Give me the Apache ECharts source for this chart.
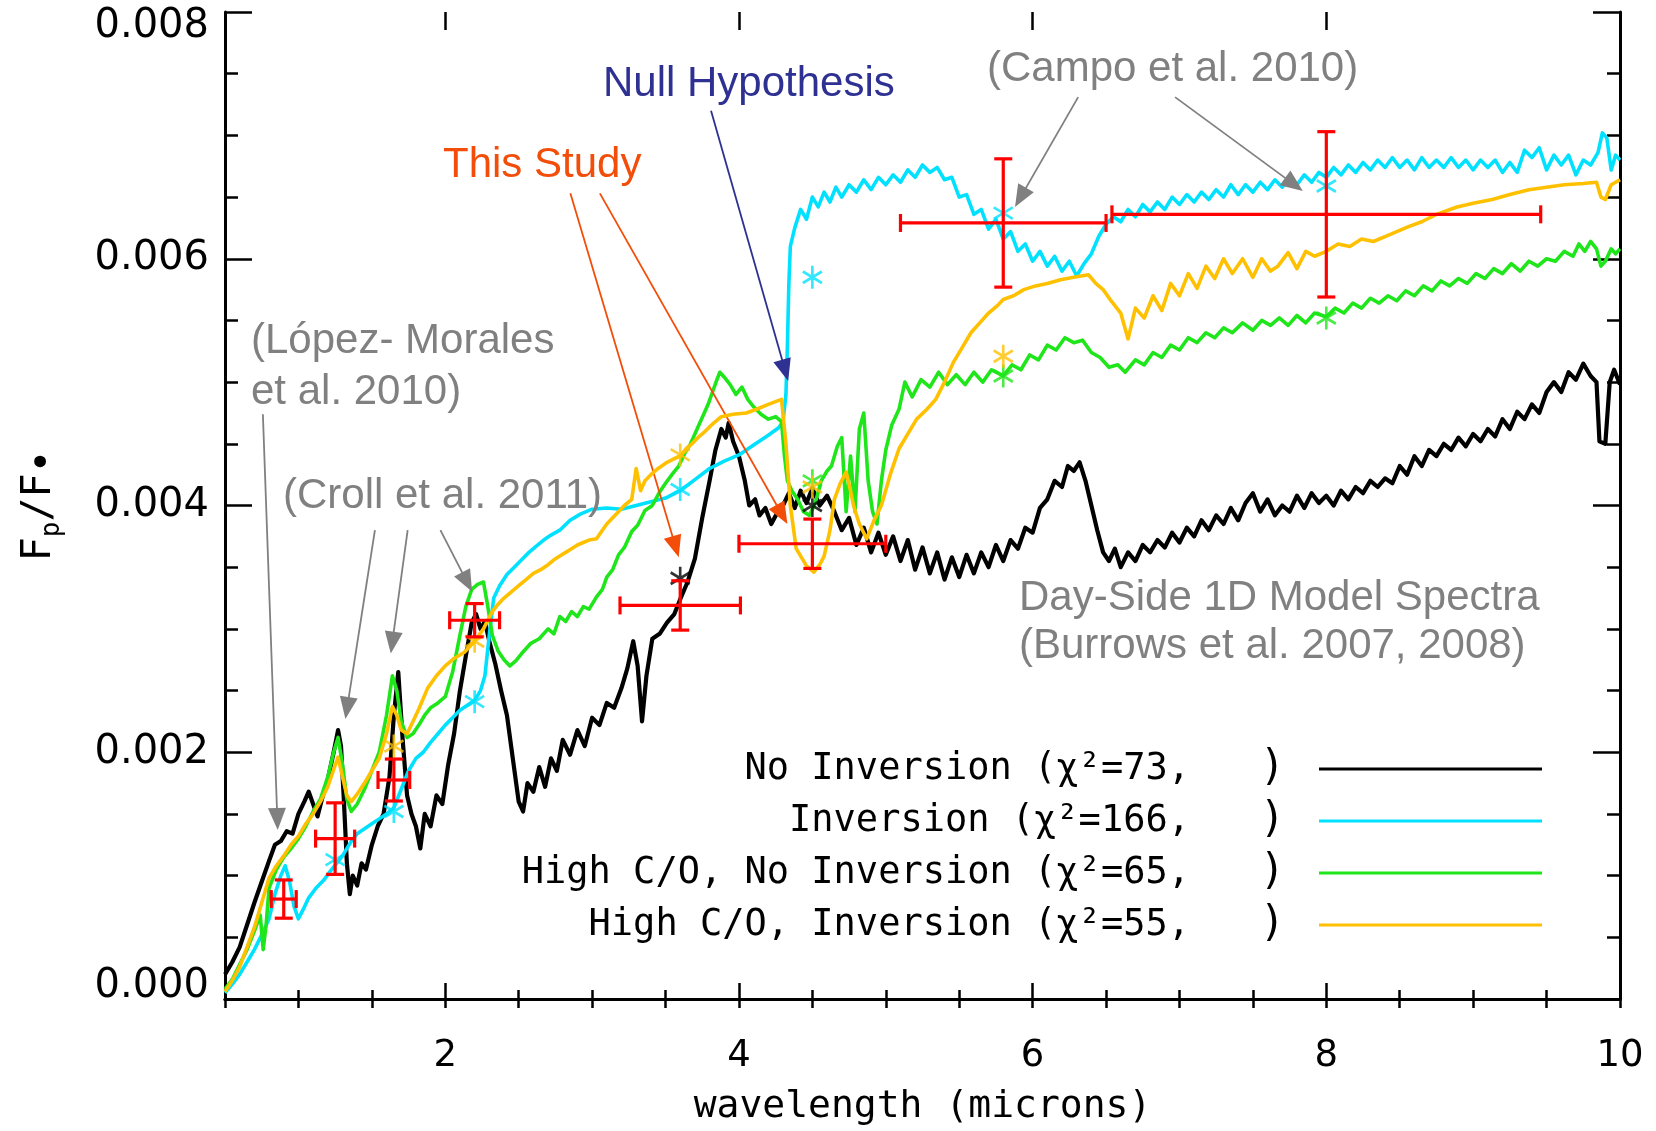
<!DOCTYPE html>
<html><head><meta charset="utf-8">
<script src="https://cdn.jsdelivr.net/npm/echarts@6/dist/echarts.min.js"></script>
<style>html,body{margin:0;padding:0;background:#fff;}#c{width:1656px;height:1131px;}</style>
</head><body><div id="c"></div>
<script>
// ---------------- data ----------------
const xMajorTicks = [2, 4, 6, 8];
const xLabelValues = [2, 4, 6, 8, 10];
const seriesNames = ['No Inversion', 'Inversion', 'High C/O, No Inversion', 'High C/O, Inversion'];
const chi2 = [73, 166, 65, 55];
const seriesColors = ['#000000', '#00e1ff', '#1ee61a', '#ffc000'];

const noInversion = [[0.50,0.00020],[0.55,0.00030],[0.60,0.00042],[0.65,0.00060],[0.70,0.00078],[0.75,0.00095],[0.80,0.00112],[0.84,0.00125],[0.88,0.00128],[0.92,0.00136],[0.96,0.00134],[1.00,0.00150],[1.04,0.00160],[1.07,0.00168],[1.10,0.00158],[1.13,0.00148],[1.16,0.00162],[1.20,0.00178],[1.24,0.00200],[1.27,0.00218],[1.29,0.00205],[1.31,0.00160],[1.33,0.00110],[1.35,0.00085],[1.37,0.00100],[1.40,0.00092],[1.43,0.00110],[1.46,0.00105],[1.50,0.00125],[1.54,0.00140],[1.58,0.00150],[1.62,0.00180],[1.65,0.00230],[1.68,0.00265],[1.71,0.00210],[1.74,0.00165],[1.77,0.00150],[1.80,0.00140],[1.83,0.00122],[1.86,0.00150],[1.90,0.00140],[1.94,0.00165],[1.98,0.00158],[2.02,0.00190],[2.06,0.00215],[2.10,0.00250],[2.14,0.00278],[2.18,0.00305],[2.21,0.00312],[2.24,0.00300],[2.27,0.00306],[2.30,0.00290],[2.34,0.00272],[2.38,0.00250],[2.42,0.00230],[2.46,0.00195],[2.50,0.00160],[2.53,0.00152],[2.56,0.00175],[2.60,0.00168],[2.64,0.00188],[2.68,0.00172],[2.72,0.00195],[2.76,0.00185],[2.80,0.00210],[2.85,0.00198],[2.90,0.00218],[2.95,0.00205],[3.00,0.00228],[3.05,0.00222],[3.10,0.00240],[3.15,0.00236],[3.20,0.00252],[3.24,0.00268],[3.28,0.00290],[3.31,0.00270],[3.34,0.00225],[3.37,0.00262],[3.41,0.00292],[3.46,0.00296],[3.51,0.00305],[3.56,0.00312],[3.60,0.00324],[3.65,0.00338],[3.70,0.00357],[3.75,0.00390],[3.80,0.00420],[3.84,0.00445],[3.88,0.00462],[3.91,0.00455],[3.93,0.00467],[3.96,0.00452],[4.00,0.00440],[4.04,0.00420],[4.07,0.00400],[4.11,0.00405],[4.14,0.00392],[4.18,0.00398],[4.22,0.00385],[4.26,0.00394],[4.30,0.00400],[4.34,0.00410],[4.38,0.00398],[4.42,0.00412],[4.46,0.00402],[4.50,0.00414],[4.55,0.00400],[4.60,0.00408],[4.65,0.00395],[4.70,0.00380],[4.75,0.00390],[4.80,0.00368],[4.85,0.00382],[4.90,0.00362],[4.95,0.00378],[5.00,0.00360],[5.05,0.00375],[5.10,0.00355],[5.15,0.00372],[5.20,0.00348],[5.25,0.00366],[5.30,0.00345],[5.35,0.00362],[5.40,0.00340],[5.45,0.00358],[5.50,0.00342],[5.55,0.00360],[5.60,0.00345],[5.65,0.00362],[5.70,0.00350],[5.75,0.00368],[5.80,0.00355],[5.85,0.00372],[5.90,0.00365],[5.95,0.00382],[6.00,0.00378],[6.05,0.00398],[6.10,0.00405],[6.15,0.00420],[6.20,0.00415],[6.24,0.00432],[6.28,0.00428],[6.32,0.00435],[6.36,0.00420],[6.40,0.00400],[6.44,0.00380],[6.48,0.00362],[6.52,0.00355],[6.56,0.00365],[6.60,0.00350],[6.65,0.00362],[6.70,0.00355],[6.75,0.00368],[6.80,0.00362],[6.85,0.00372],[6.90,0.00366],[6.95,0.00378],[7.00,0.00370],[7.05,0.00382],[7.10,0.00375],[7.15,0.00388],[7.20,0.00380],[7.25,0.00392],[7.30,0.00385],[7.35,0.00398],[7.40,0.00388],[7.45,0.00402],[7.50,0.00410],[7.55,0.00395],[7.60,0.00405],[7.65,0.00392],[7.70,0.00400],[7.75,0.00395],[7.80,0.00408],[7.85,0.00398],[7.90,0.00410],[7.95,0.00402],[8.00,0.00408],[8.05,0.00400],[8.10,0.00412],[8.15,0.00405],[8.20,0.00415],[8.25,0.00410],[8.30,0.00420],[8.35,0.00415],[8.40,0.00422],[8.45,0.00418],[8.50,0.00432],[8.55,0.00425],[8.60,0.00440],[8.65,0.00432],[8.70,0.00445],[8.75,0.00440],[8.80,0.00450],[8.85,0.00445],[8.90,0.00455],[8.95,0.00448],[9.00,0.00458],[9.05,0.00452],[9.10,0.00462],[9.15,0.00456],[9.20,0.00470],[9.25,0.00462],[9.30,0.00476],[9.35,0.00470],[9.40,0.00482],[9.45,0.00475],[9.50,0.00492],[9.55,0.00500],[9.60,0.00492],[9.65,0.00508],[9.70,0.00502],[9.75,0.00515],[9.80,0.00505],[9.84,0.00500],[9.86,0.00452],[9.90,0.00450],[9.93,0.00500],[9.96,0.00510],[10.0,0.00498]];

const inversion = [[0.50,0.00005],[0.55,0.00012],[0.60,0.00020],[0.65,0.00030],[0.70,0.00040],[0.75,0.00052],[0.80,0.00065],[0.84,0.00085],[0.88,0.00100],[0.91,0.00108],[0.94,0.00095],[0.97,0.00075],[1.00,0.00065],[1.03,0.00072],[1.07,0.00082],[1.12,0.00090],[1.17,0.00096],[1.22,0.00104],[1.26,0.00110],[1.30,0.00116],[1.35,0.00126],[1.40,0.00134],[1.45,0.00138],[1.50,0.00142],[1.55,0.00146],[1.60,0.00150],[1.65,0.00155],[1.70,0.00170],[1.75,0.00185],[1.80,0.00195],[1.85,0.00200],[1.90,0.00208],[1.95,0.00215],[2.00,0.00222],[2.05,0.00228],[2.10,0.00234],[2.15,0.00238],[2.20,0.00242],[2.24,0.00250],[2.27,0.00262],[2.30,0.00295],[2.33,0.00325],[2.37,0.00335],[2.42,0.00344],[2.47,0.00350],[2.52,0.00356],[2.57,0.00362],[2.62,0.00367],[2.67,0.00372],[2.72,0.00376],[2.78,0.00380],[2.85,0.00388],[2.92,0.00393],[3.00,0.00397],[3.10,0.00398],[3.20,0.00397],[3.30,0.00400],[3.40,0.00403],[3.50,0.00406],[3.60,0.00412],[3.70,0.00421],[3.80,0.00430],[3.90,0.00436],[4.00,0.00441],[4.10,0.00449],[4.20,0.00457],[4.27,0.00463],[4.30,0.00468],[4.32,0.00490],[4.33,0.00530],[4.34,0.00580],[4.35,0.00610],[4.38,0.00625],[4.42,0.00640],[4.46,0.00632],[4.50,0.00650],[4.54,0.00642],[4.58,0.00654],[4.62,0.00646],[4.66,0.00658],[4.70,0.00650],[4.75,0.00660],[4.80,0.00654],[4.85,0.00664],[4.90,0.00656],[4.95,0.00666],[5.00,0.00660],[5.05,0.00668],[5.10,0.00662],[5.15,0.00672],[5.20,0.00666],[5.25,0.00676],[5.30,0.00670],[5.35,0.00674],[5.40,0.00664],[5.45,0.00666],[5.50,0.00650],[5.55,0.00652],[5.60,0.00636],[5.65,0.00640],[5.70,0.00624],[5.75,0.00632],[5.80,0.00616],[5.85,0.00622],[5.90,0.00606],[5.95,0.00612],[6.00,0.00598],[6.05,0.00606],[6.10,0.00594],[6.15,0.00602],[6.20,0.00590],[6.25,0.00598],[6.30,0.00586],[6.35,0.00596],[6.40,0.00604],[6.45,0.00618],[6.50,0.00628],[6.55,0.00634],[6.60,0.00630],[6.65,0.00640],[6.70,0.00634],[6.75,0.00644],[6.80,0.00638],[6.85,0.00646],[6.90,0.00640],[6.95,0.00650],[7.00,0.00644],[7.05,0.00652],[7.10,0.00646],[7.15,0.00654],[7.20,0.00648],[7.25,0.00656],[7.30,0.00650],[7.35,0.00660],[7.40,0.00652],[7.45,0.00660],[7.50,0.00654],[7.55,0.00662],[7.60,0.00656],[7.65,0.00664],[7.70,0.00658],[7.75,0.00666],[7.80,0.00660],[7.85,0.00668],[7.90,0.00662],[7.95,0.00670],[8.00,0.00666],[8.05,0.00674],[8.10,0.00668],[8.15,0.00676],[8.20,0.00670],[8.25,0.00678],[8.30,0.00672],[8.35,0.00680],[8.40,0.00674],[8.45,0.00682],[8.50,0.00674],[8.55,0.00680],[8.60,0.00672],[8.65,0.00682],[8.70,0.00674],[8.75,0.00680],[8.80,0.00674],[8.85,0.00682],[8.90,0.00674],[8.95,0.00680],[9.00,0.00672],[9.05,0.00680],[9.10,0.00674],[9.15,0.00680],[9.20,0.00670],[9.25,0.00678],[9.30,0.00670],[9.35,0.00688],[9.40,0.00682],[9.45,0.00690],[9.50,0.00672],[9.55,0.00684],[9.60,0.00676],[9.65,0.00684],[9.70,0.00668],[9.75,0.00680],[9.80,0.00676],[9.85,0.00686],[9.88,0.00702],[9.91,0.00698],[9.94,0.00672],[9.97,0.00684],[10.0,0.00680]];

const highCONoInv = [[0.50,0.00008],[0.55,0.00016],[0.60,0.00028],[0.65,0.00040],[0.70,0.00055],[0.74,0.00068],[0.76,0.00040],[0.78,0.00060],[0.80,0.00090],[0.85,0.00105],[0.90,0.00115],[0.95,0.00122],[1.00,0.00130],[1.05,0.00140],[1.10,0.00152],[1.15,0.00162],[1.20,0.00180],[1.24,0.00200],[1.27,0.00212],[1.30,0.00190],[1.33,0.00162],[1.36,0.00152],[1.40,0.00158],[1.45,0.00170],[1.50,0.00185],[1.55,0.00200],[1.60,0.00230],[1.64,0.00262],[1.67,0.00250],[1.70,0.00225],[1.74,0.00212],[1.78,0.00215],[1.82,0.00222],[1.86,0.00230],[1.90,0.00236],[1.95,0.00240],[2.00,0.00245],[2.05,0.00265],[2.10,0.00295],[2.14,0.00318],[2.18,0.00332],[2.22,0.00336],[2.26,0.00338],[2.29,0.00318],[2.32,0.00295],[2.36,0.00282],[2.40,0.00275],[2.44,0.00270],[2.48,0.00274],[2.52,0.00280],[2.58,0.00288],[2.64,0.00292],[2.70,0.00300],[2.74,0.00296],[2.78,0.00310],[2.82,0.00306],[2.86,0.00314],[2.90,0.00310],[2.94,0.00318],[2.98,0.00316],[3.03,0.00326],[3.07,0.00332],[3.10,0.00342],[3.14,0.00348],[3.18,0.00360],[3.22,0.00366],[3.27,0.00379],[3.31,0.00384],[3.36,0.00396],[3.41,0.00400],[3.46,0.00411],[3.50,0.00418],[3.55,0.00426],[3.59,0.00432],[3.63,0.00442],[3.67,0.00450],[3.70,0.00458],[3.73,0.00466],[3.76,0.00474],[3.79,0.00482],[3.82,0.00492],[3.85,0.00502],[3.87,0.00508],[3.90,0.00504],[3.94,0.00498],[3.98,0.00490],[4.02,0.00496],[4.06,0.00486],[4.10,0.00480],[4.15,0.00474],[4.20,0.00470],[4.25,0.00472],[4.29,0.00468],[4.31,0.00440],[4.33,0.00420],[4.36,0.00412],[4.40,0.00405],[4.44,0.00395],[4.48,0.00392],[4.52,0.00402],[4.56,0.00420],[4.60,0.00428],[4.63,0.00432],[4.67,0.00448],[4.70,0.00455],[4.73,0.00395],[4.76,0.00440],[4.79,0.00395],[4.82,0.00462],[4.85,0.00475],[4.88,0.00420],[4.91,0.00395],[4.94,0.00385],[4.97,0.00420],[5.00,0.00445],[5.04,0.00465],[5.09,0.00478],[5.13,0.00500],[5.18,0.00488],[5.24,0.00502],[5.30,0.00496],[5.36,0.00508],[5.42,0.00498],[5.48,0.00506],[5.54,0.00498],[5.60,0.00508],[5.66,0.00500],[5.72,0.00510],[5.80,0.00505],[5.86,0.00514],[5.92,0.00510],[5.98,0.00522],[6.04,0.00518],[6.10,0.00530],[6.16,0.00526],[6.22,0.00536],[6.28,0.00532],[6.34,0.00534],[6.40,0.00524],[6.46,0.00520],[6.52,0.00512],[6.58,0.00514],[6.63,0.00508],[6.70,0.00518],[6.76,0.00514],[6.82,0.00524],[6.88,0.00520],[6.94,0.00530],[7.00,0.00526],[7.06,0.00536],[7.12,0.00532],[7.18,0.00540],[7.24,0.00536],[7.30,0.00544],[7.36,0.00540],[7.43,0.00548],[7.50,0.00542],[7.56,0.00550],[7.62,0.00546],[7.68,0.00552],[7.74,0.00546],[7.80,0.00554],[7.86,0.00548],[7.92,0.00556],[8.00,0.00553],[8.06,0.00560],[8.12,0.00556],[8.18,0.00564],[8.24,0.00560],[8.30,0.00568],[8.36,0.00564],[8.42,0.00570],[8.48,0.00566],[8.54,0.00574],[8.60,0.00570],[8.66,0.00578],[8.72,0.00574],[8.78,0.00582],[8.84,0.00578],[8.90,0.00584],[8.96,0.00580],[9.02,0.00588],[9.08,0.00584],[9.14,0.00592],[9.20,0.00588],[9.26,0.00596],[9.32,0.00590],[9.38,0.00598],[9.44,0.00594],[9.50,0.00600],[9.56,0.00598],[9.62,0.00606],[9.68,0.00602],[9.72,0.00612],[9.76,0.00606],[9.80,0.00614],[9.84,0.00608],[9.87,0.00594],[9.90,0.00598],[9.94,0.00608],[9.97,0.00604],[10.0,0.00608]];

const highCOInv = [[0.50,0.00006],[0.55,0.00015],[0.60,0.00026],[0.65,0.00042],[0.70,0.00058],[0.75,0.00078],[0.80,0.00098],[0.85,0.00108],[0.90,0.00116],[0.95,0.00125],[1.00,0.00132],[1.05,0.00142],[1.10,0.00150],[1.15,0.00160],[1.20,0.00172],[1.24,0.00186],[1.27,0.00196],[1.30,0.00180],[1.33,0.00165],[1.36,0.00160],[1.40,0.00166],[1.45,0.00175],[1.50,0.00185],[1.55,0.00195],[1.60,0.00215],[1.64,0.00237],[1.67,0.00230],[1.70,0.00218],[1.74,0.00215],[1.78,0.00225],[1.82,0.00235],[1.88,0.00252],[1.94,0.00262],[2.00,0.00270],[2.06,0.00276],[2.13,0.00281],[2.20,0.00290],[2.26,0.00300],[2.32,0.00314],[2.36,0.00320],[2.40,0.00325],[2.45,0.00330],[2.50,0.00335],[2.55,0.00340],[2.60,0.00345],[2.65,0.00348],[2.70,0.00352],[2.74,0.00356],[2.78,0.00359],[2.82,0.00362],[2.86,0.00365],[2.90,0.00368],[2.94,0.00370],[2.98,0.00372],[3.03,0.00373],[3.07,0.00380],[3.10,0.00385],[3.14,0.00390],[3.18,0.00395],[3.22,0.00400],[3.27,0.00405],[3.30,0.00430],[3.33,0.00412],[3.36,0.00420],[3.40,0.00425],[3.45,0.00430],[3.51,0.00435],[3.56,0.00438],[3.60,0.00440],[3.64,0.00446],[3.68,0.00450],[3.72,0.00455],[3.76,0.00459],[3.82,0.00466],[3.88,0.00472],[3.96,0.00474],[4.05,0.00475],[4.12,0.00478],[4.20,0.00482],[4.29,0.00486],[4.32,0.00450],[4.35,0.00400],[4.39,0.00365],[4.46,0.00351],[4.51,0.00346],[4.55,0.00352],[4.58,0.00359],[4.62,0.00380],[4.65,0.00405],[4.69,0.00418],[4.73,0.00427],[4.76,0.00412],[4.78,0.00400],[4.82,0.00385],[4.87,0.00373],[4.92,0.00388],[4.97,0.00400],[5.03,0.00425],[5.09,0.00446],[5.15,0.00458],[5.21,0.00470],[5.28,0.00478],[5.34,0.00486],[5.40,0.00500],[5.46,0.00516],[5.52,0.00528],[5.58,0.00540],[5.64,0.00548],[5.70,0.00556],[5.76,0.00562],[5.80,0.00567],[5.87,0.00570],[5.94,0.00575],[6.02,0.00578],[6.10,0.00580],[6.19,0.00583],[6.28,0.00585],[6.38,0.00587],[6.43,0.00580],[6.48,0.00575],[6.54,0.00565],[6.60,0.00556],[6.65,0.00535],[6.70,0.00560],[6.76,0.00552],[6.82,0.00570],[6.88,0.00558],[6.94,0.00580],[7.00,0.00570],[7.06,0.00588],[7.12,0.00576],[7.18,0.00594],[7.24,0.00584],[7.30,0.00600],[7.36,0.00588],[7.43,0.00600],[7.50,0.00585],[7.56,0.00600],[7.62,0.00590],[7.67,0.00594],[7.74,0.00605],[7.80,0.00592],[7.86,0.00606],[7.92,0.00602],[8.00,0.00606],[8.08,0.00612],[8.16,0.00610],[8.24,0.00616],[8.32,0.00614],[8.40,0.00618],[8.48,0.00622],[8.56,0.00626],[8.65,0.00630],[8.75,0.00636],[8.89,0.00642],[9.00,0.00645],[9.13,0.00648],[9.25,0.00652],[9.38,0.00656],[9.50,0.00658],[9.62,0.00660],[9.75,0.00661],[9.84,0.00662],[9.87,0.00650],[9.90,0.00648],[9.94,0.00660],[10.0,0.00664]];

// observations (red error bars)
const obsWave     = [0.90, 1.25, 1.65, 2.20, 3.60, 4.50, 5.80, 8.00];
const obsWaveErr  = [0.085, 0.133, 0.108, 0.17, 0.41, 0.50, 0.70, 1.46];
const obsFlux     = [0.00081, 0.00130, 0.001775, 0.00307, 0.00319, 0.00369, 0.00629, 0.00636];
const obsFluxErr  = [0.000155, 0.00029, 0.00017, 0.000135, 0.00020, 0.00020, 0.00052, 0.00067];

// band-integrated model points (asterisks)
const bandNoInv    = [[3.6,0.00341],[4.5,0.00400]];
const bandInv      = [[1.25,0.00113],[1.65,0.00152],[2.2,0.00241],[3.6,0.00413],[4.5,0.00585],[5.8,0.00637],[8.0,0.00659]];
const bandHighCONoInv = [[4.5,0.00420],[5.8,0.00505],[8.0,0.00552]];
const bandHighCOInv   = [[1.65,0.00205],[2.2,0.00290],[3.6,0.00441],[4.5,0.00415],[5.8,0.00521]];

// annotation arrows (data coordinates: tail -> tip)
const arrowFrom = [[0.758,0.00474],[1.521,0.00380],[1.744,0.00380],[1.967,0.00380],[6.31,0.00731],[6.97,0.00731],[2.852,0.00653],[3.053,0.00653],[3.81,0.00720]];
const arrowTo   = [[0.859,0.00137],[1.320,0.00227],[1.629,0.00280],[2.183,0.00330],[5.88,0.00642],[7.84,0.00655],[3.59,0.00358],[4.33,0.00385],[4.335,0.00501]];
const arrowColor = ['#808080','#808080','#808080','#808080','#808080','#808080','#f24e0a','#f24e0a','#2e3192'];

// ---------------- chart ----------------
const chart = echarts.init(document.getElementById('c'), null, {renderer: 'canvas'});
const G = {left: 225, right: 36, top: 12, bottom: 130};
const AX = {lineStyle: {color: '#000', width: 3}};
const TK = {color: '#000', width: 2.5};
const starPath = 'path://M-1.2,-10L-1.2,10L1.2,10L1.2,-10ZM8.06,6.04L9.26,3.96L-8.06,-6.04L-9.26,-3.96ZM-9.26,3.96L-8.06,6.04L9.26,-3.96L8.06,-6.04Z';

const lineData = [noInversion, inversion, highCONoInv, highCOInv];
const bandData = [bandNoInv, bandInv, bandHighCONoInv, bandHighCOInv];
const lineWidths = [4.2, 3.6, 3.6, 3.6];

const series = [];
lineData.forEach((d, i) => {
  series.push({
    name: seriesNames[i], type: 'line', data: d, xAxisIndex: 0, yAxisIndex: 0,
    showSymbol: false, symbol: 'none', smooth: false, sampling: null,
    lineStyle: {color: seriesColors[i], width: lineWidths[i], join: 'round'},
    itemStyle: {color: seriesColors[i]},
    emphasis: {disabled: true}, silent: true, z: 2 + i
  });
});
bandData.forEach((d, i) => {
  series.push({
    name: seriesNames[i] + ' band', type: 'scatter', data: d,
    symbol: starPath, symbolSize: [22, 23], symbolKeepAspect: true,
    itemStyle: {color: seriesColors[i]}, emphasis: {disabled: true}, silent: true, z: 7
  });
});
series.push({
  name: 'observations', type: 'custom', z: 10, silent: true,
  data: obsWave.map((w, i) => [w, obsFlux[i], obsWaveErr[i], obsFluxErr[i]]),
  encode: {x: 0, y: 1},
  renderItem: function (params, api) {
    const x = api.value(0), y = api.value(1), dx = api.value(2), dy = api.value(3);
    const c = api.coord([x, y]);
    const l = api.coord([x - dx, y]), r = api.coord([x + dx, y]);
    const t = api.coord([x, y + dy]), b = api.coord([x, y - dy]);
    const cap = 9;
    const st = {stroke: '#ff0000', lineWidth: 3.2};
    const L = (x1, y1, x2, y2) => ({type: 'line', shape: {x1, y1, x2, y2}, style: st});
    return {type: 'group', children: [
      L(l[0], c[1], r[0], c[1]),
      L(c[0], t[1], c[0], b[1]),
      L(c[0] - cap, t[1], c[0] + cap, t[1]),
      L(c[0] - cap, b[1], c[0] + cap, b[1]),
      L(l[0], c[1] - cap, l[0], c[1] + cap),
      L(r[0], c[1] - cap, r[0], c[1] + cap)
    ]};
  }
});
series.push({
  name: 'arrows', type: 'line', data: [], silent: true, z: 12,
  markLine: {
    silent: true, animation: false, symbol: ['none', 'triangle'], symbolSize: [18, 22],
    label: {show: false}, emphasis: {disabled: true},
    data: arrowFrom.map((f, i) => [
      {coord: f, lineStyle: {color: arrowColor[i], width: 1.8, type: 'solid'}, itemStyle: {color: arrowColor[i]}},
      {coord: arrowTo[i], lineStyle: {color: arrowColor[i], width: 1.8, type: 'solid'}, itemStyle: {color: arrowColor[i]}}
    ])
  }
});

const legendText = {};
seriesNames.forEach((n, i) => { legendText[n] = n + ' (\u03c7\u00b2=' + chi2[i] + ','; });

const annFont = '"Liberation Sans", Arial, sans-serif';
function ann(text, x, y, color) {
  return {type: 'text', x: x, y: y, silent: true, z: 20,
    style: {text: text, fill: color, font: '42px ' + annFont, verticalAlign: 'middle', align: 'left'}};
}

const option = {
  animation: false,
  backgroundColor: '#fff',
  grid: [
    {left: G.left, right: G.right, top: G.top, bottom: G.bottom, containLabel: false},
    {left: G.left, right: G.right, top: G.top, bottom: G.bottom, containLabel: false}
  ],
  xAxis: [
    {gridIndex: 0, type: 'value', min: 0.5, max: 10, interval: 0.5, position: 'bottom',
      axisLine: AX, axisTick: {inside: true, length: 9, lineStyle: TK}, axisLabel: {show: false}, splitLine: {show: false},
      name: 'wavelength (microns)', nameLocation: 'middle', nameGap: 89,
      nameTextStyle: {fontFamily: '"DejaVu Sans Mono", monospace', fontSize: 38, color: '#000'}},
    {gridIndex: 0, type: 'value', min: 0.5, max: 10, interval: 0.5, position: 'top',
      axisLine: AX, axisTick: {inside: true, length: 9, lineStyle: TK}, axisLabel: {show: false}, splitLine: {show: false}},
    {gridIndex: 1, type: 'value', min: 0.5, max: 10, position: 'bottom',
      axisLine: {show: false}, axisTick: {inside: true, length: 18, lineStyle: TK, customValues: xMajorTicks},
      axisLabel: {customValues: xLabelValues, margin: 37, fontFamily: '"DejaVu Sans", sans-serif', fontSize: 37, color: '#000'},
      splitLine: {show: false}},
    {gridIndex: 1, type: 'value', min: 0.5, max: 10, position: 'top',
      axisLine: {show: false}, axisTick: {inside: true, length: 18, lineStyle: TK, customValues: xMajorTicks},
      axisLabel: {show: false}, splitLine: {show: false}}
  ],
  yAxis: [
    {gridIndex: 0, type: 'value', min: 0, max: 0.008, interval: 0.002, position: 'left',
      axisLine: AX, axisTick: {inside: true, length: 27, lineStyle: TK},
      minorTick: {show: true, splitNumber: 4, length: 13, lineStyle: TK},
      splitLine: {show: false}, minorSplitLine: {show: false},
      axisLabel: {margin: 16, color: '#000', fontFamily: '"DejaVu Sans", sans-serif', fontSize: 40,
        formatter: function (v) {
          const s = v.toFixed(3);
          if (v > 0.0079) return '{hi|' + s + '}';
          if (v < 1e-9) return '{lo|' + s + '}';
          return s;
        },
        rich: {
          hi: {padding: [30, 0, 0, 0], fontFamily: '"DejaVu Sans", sans-serif', fontSize: 40, color: '#000'},
          lo: {padding: [0, 0, 24, 0], fontFamily: '"DejaVu Sans", sans-serif', fontSize: 40, color: '#000'}
        }},
      name: '{f|F}{s|p}{f|/F}{b|\u2022}', nameLocation: 'middle', nameRotate: 90, nameGap: 160,
      nameTextStyle: {rich: {
        f: {fontFamily: '"DejaVu Sans Mono", monospace', fontSize: 40, color: '#000', lineHeight: 44},
        s: {fontFamily: '"DejaVu Sans Mono", monospace', fontSize: 26, color: '#000', verticalAlign: 'bottom', lineHeight: 44},
        b: {fontFamily: '"DejaVu Sans", sans-serif', fontSize: 40, color: '#000', verticalAlign: 'bottom', lineHeight: 50}
      }}},
    {gridIndex: 0, type: 'value', min: 0, max: 0.008, interval: 0.002, position: 'right',
      axisLine: AX, axisTick: {inside: true, length: 27, lineStyle: TK},
      minorTick: {show: true, splitNumber: 4, length: 13, lineStyle: TK},
      splitLine: {show: false}, axisLabel: {show: false}},
    {gridIndex: 1, type: 'value', min: 0, max: 0.008, show: false}
  ],
  legend: {
    data: seriesNames, orient: 'vertical', left: 490, top: 748, align: 'right',
    padding: 0, itemGap: 10, itemWidth: 223, itemHeight: 3, icon: 'rect', selectedMode: false,
    formatter: function (name) { return '{t|' + legendText[name] + '}{p|)}'; },
    textStyle: {
      fontFamily: '"DejaVu Sans Mono", monospace', fontSize: 37, color: '#000',
      rich: {
        t: {width: 700, align: 'right', fontFamily: '"DejaVu Sans Mono", monospace', fontSize: 37, color: '#000', lineHeight: 40},
        p: {width: 95, align: 'right', padding: [0, 29, 0, 0], fontFamily: '"DejaVu Sans Mono", monospace', fontSize: 42, color: '#000', lineHeight: 40}
      }
    }
  },
  graphic: [
    ann('(L\u00f3pez- Morales', 251, 341, '#808080'),
    ann('et al. 2010)', 251, 392, '#808080'),
    ann('(Croll et al. 2011)', 283, 496, '#808080'),
    ann('(Campo et al. 2010)', 987, 69, '#808080'),
    ann('Null Hypothesis', 603, 84, '#2e3192'),
    ann('This Study', 443, 165, '#f24e0a'),
    ann('Day-Side 1D Model Spectra', 1019, 598, '#808080'),
    ann('(Burrows et al. 2007, 2008)', 1019, 646, '#808080')
  ],
  series: series
};
chart.setOption(option);

// pull arrow endpoints back by half the head length so the head's tip lands on the target
const headHalf = 11;
const newLines = arrowFrom.map((f, i) => {
  const p0 = chart.convertToPixel({gridIndex: 0}, f);
  const p1 = chart.convertToPixel({gridIndex: 0}, arrowTo[i]);
  const dx = p1[0] - p0[0], dy = p1[1] - p0[1];
  const len = Math.sqrt(dx * dx + dy * dy);
  const q = [p1[0] - dx / len * headHalf, p1[1] - dy / len * headHalf];
  const to = chart.convertFromPixel({gridIndex: 0}, q);
  return [
    {coord: f, lineStyle: {color: arrowColor[i], width: 1.8, type: 'solid'}, itemStyle: {color: arrowColor[i]}},
    {coord: to, lineStyle: {color: arrowColor[i], width: 1.8, type: 'solid'}, itemStyle: {color: arrowColor[i]}}
  ];
});
chart.setOption({series: [{name: 'arrows', markLine: {data: newLines}}]});
</script>
</body></html>
